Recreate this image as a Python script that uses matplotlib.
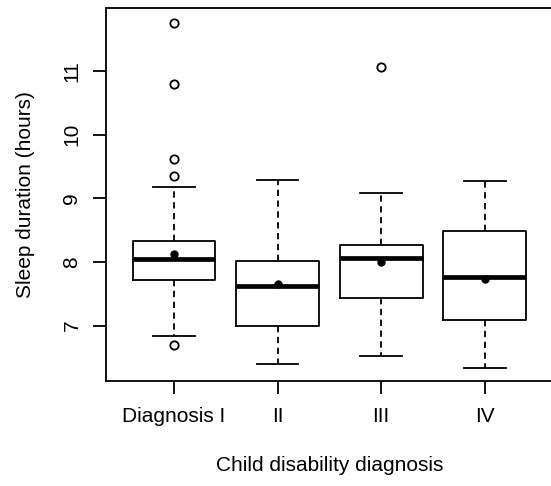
import matplotlib.pyplot as plt

plt.rcParams['font.family'] = ['Liberation Sans', 'DejaVu Sans']

labels = ['Diagnosis I', 'II', 'III', 'IV']
q1 = [7.71, 7.00, 7.44, 7.09]
med = [8.05, 7.62, 8.06, 7.76]
q3 = [8.33, 8.02, 8.27, 8.48]
whislo = [6.83, 6.40, 6.52, 6.34]
whishi = [9.17, 9.28, 9.08, 9.27]
means = [8.12, 7.65, 8.00, 7.73]
fliers = [[11.76, 10.79, 9.61, 9.35, 6.70], [], [11.07], []]

stats = []
for i in range(len(labels)):
  stats.append(dict(label=labels[i], q1=q1[i], med=med[i], q3=q3[i],
                    whislo=whislo[i], whishi=whishi[i], mean=means[i],
                    fliers=fliers[i]))

fig = plt.figure(figsize=(5.51, 4.86), dpi=100)
# axes run a bit past the right edge, like the cropped original
ax = fig.add_axes([105.6 / 551, 105 / 486, 447.6 / 551, 373 / 486])

lw = 1.3
ax.bxp(stats, positions=[1, 2, 3, 4], widths=0.8, showmeans=True,
       boxprops=dict(color='black', linewidth=lw),
       medianprops=dict(color='black', linewidth=3.4, solid_capstyle='butt'),
       whiskerprops=dict(color='black', linewidth=lw, linestyle=(0, (3.5, 2.5))),
       capprops=dict(color='black', linewidth=lw),
       capwidths=0.4,
       meanprops=dict(marker='o', markerfacecolor='black', markeredgecolor='black', markersize=5),
       flierprops=dict(marker='o', markerfacecolor='none', markeredgecolor='black',
                       markersize=6, markeredgewidth=1.3))

ax.set_xlim(0.34, 4.66)
ax.set_ylim(6.13, 11.99)
ax.set_yticks([7, 8, 9, 10, 11])
ax.set_yticklabels(['7', '8', '9', '10', '11'], rotation=90, va='center')
ax.set_xticks([1, 2, 3, 4])
ax.set_xticklabels(labels)
ax.tick_params(length=9.4, width=lw, labelsize=15)
ax.tick_params(axis='x', pad=9)
ax.tick_params(axis='y', pad=8)
for s in ax.spines.values():
  s.set_linewidth(lw)

ax.set_xlabel('Child disability diagnosis', fontsize=15, labelpad=22)
ax.set_ylabel('Sleep duration (hours)', fontsize=15, labelpad=20)

plt.savefig('out.png', dpi=100)
plt.close()
